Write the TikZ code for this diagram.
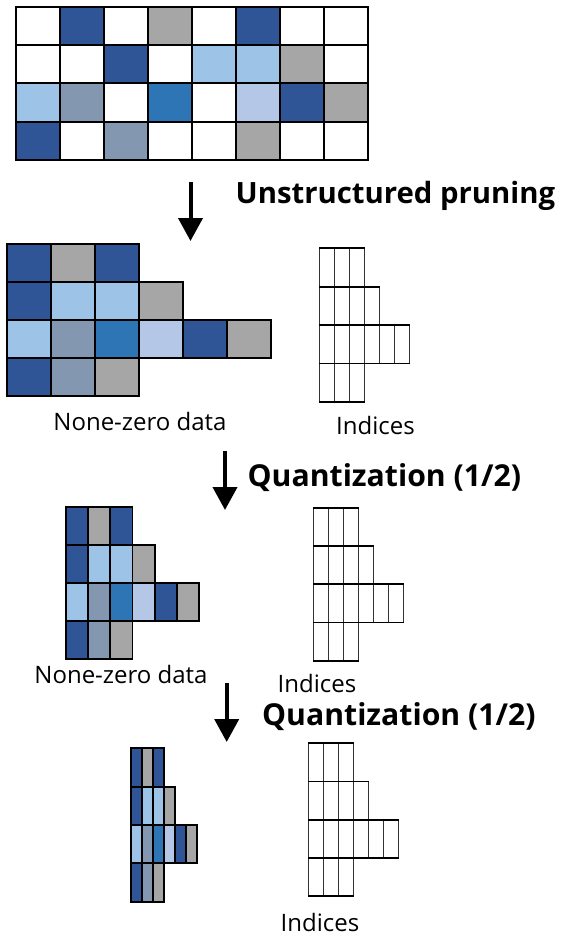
\documentclass[tikz,border=0pt]{standalone}
\usepackage{fontspec}
\setmainfont{Open Sans}
\usetikzlibrary{arrows.meta}

% Office-style palette for the weight cells
\definecolor{dkb}{HTML}{2F5597}
\definecolor{mdb}{HTML}{2E75B6}
\definecolor{ltb}{HTML}{9DC3E6}
\definecolor{lav}{HTML}{B4C7E7}
\definecolor{gbl}{HTML}{8497B0}
\definecolor{gry}{HTML}{A6A6A6}

\tikzset{
  cellbox/.style={draw=black, line width=1.8pt},
  idxrule/.style={draw=black, line width=1.7pt},
  idxsep/.style={draw=black!80, line width=0.9pt},
  steparrow/.style={line width=4pt, -{Triangle[width=24pt,length=23pt]}},
  steplabel/.style={anchor=base west, inner sep=0pt, font=\bfseries\fontsize{29.3}{34}\selectfont},
  quantlabel/.style={steplabel, font=\bfseries\fontsize{30.2}{35}\selectfont},
  caption/.style={anchor=base, inner sep=0pt, font=\fontsize{24}{28}\selectfont}
}

% one row of coloured cells: x0, y0, width, height, colour list
\newcommand\datarow[5]{%
  \foreach \c [count=\i from 0] in {#5} {
    \draw[cellbox, fill=\c] ({#1+\i*#3},{#2}) rectangle ++(#3,#4);
  }}

% one row of index slots: x0, y0, width, height, number of slots
\newcommand\idxrow[5]{%
  \foreach \k in {0,...,#5} {
    \draw[idxsep] ({#1+\k*#3},{#2}) -- ++(0,#4);
  }
  \draw[idxrule] ({#1},{#2}) -- ++({#5*#3},0);
  \draw[idxrule] ({#1},{#2+#4}) -- ++({#5*#3},0);}

\begin{document}
\begin{tikzpicture}[x=1pt,y=-1pt]
  \useasboundingbox[fill=white] (0,0) rectangle (570,936);

  % dense weight matrix
  \datarow{16}{6.7}{44}{38.33}{white,dkb,white,gry,white,dkb,white,white}
  \datarow{16}{45.03}{44}{38.33}{white,white,dkb,white,ltb,ltb,gry,white}
  \datarow{16}{83.36}{44}{38.33}{ltb,gbl,white,mdb,white,lav,dkb,gry}
  \datarow{16}{121.69}{44}{38.33}{dkb,white,gbl,white,white,gry,white,white}

  % step 1: unstructured pruning
  \coordinate (a1s) at (190.5,182);
  \coordinate (a1e) at (190.5,241);
  \draw[steparrow] (a1s) -- (a1e);
  \node[steplabel] (prune) at (235.5,204) {Unstructured pruning};

  % non-zero data after pruning
  \datarow{6.7}{244}{44}{38}{dkb,gry,dkb}
  \datarow{6.7}{282}{44}{38}{dkb,ltb,ltb,gry}
  \datarow{6.7}{320}{44}{38}{ltb,gbl,mdb,lav,dkb,gry}
  \datarow{6.7}{358}{44}{38}{dkb,gbl,gry}
  \node[caption] (nz1) at (140,430) {None-zero data};

  % index arrays after pruning
  \idxrow{319.3}{248.3}{15.1}{38.35}{3}
  \idxrow{319.3}{286.65}{15.1}{38.35}{4}
  \idxrow{319.3}{325}{15.1}{38.35}{6}
  \idxrow{319.3}{363.35}{15.1}{38.35}{3}
  \node[caption] (ix1) at (375.5,434) {Indices};

  % step 2: first quantization
  \coordinate (a2s) at (225,451);
  \coordinate (a2e) at (225,510);
  \draw[steparrow] (a2s) -- (a2e);
  \node[quantlabel] (quant1) at (247.5,486.7) {Quantization (1/2)};

  % half-width data
  \datarow{66}{506.7}{22.17}{38.15}{dkb,gry,dkb}
  \datarow{66}{544.85}{22.17}{38.15}{dkb,ltb,ltb,gry}
  \datarow{66}{583}{22.17}{38.15}{ltb,gbl,mdb,lav,dkb,gry}
  \datarow{66}{621.15}{22.17}{38.15}{dkb,gbl,gry}
  \node[caption] (nz2) at (121,683) {None-zero data};

  \idxrow{313.3}{507.7}{15.1}{38.3}{3}
  \idxrow{313.3}{546}{15.1}{38.3}{4}
  \idxrow{313.3}{584.3}{15.1}{38.3}{6}
  \idxrow{313.3}{622.6}{15.1}{38.3}{3}
  \node[caption] (ix2) at (317,692.7) {Indices};

  % step 3: second quantization
  \coordinate (a3s) at (226.7,683);
  \coordinate (a3e) at (226.7,742);
  \draw[steparrow] (a3s) -- (a3e);
  \node[quantlabel] (quant2) at (262,725) {Quantization (1/2)};

  % quarter-width data
  \datarow{130.7}{748.3}{11.1}{38.35}{dkb,gry,dkb}
  \datarow{130.7}{786.65}{11.1}{38.35}{dkb,ltb,ltb,gry}
  \datarow{130.7}{825}{11.1}{38.35}{ltb,gbl,mdb,lav,dkb,gry}
  \datarow{130.7}{863.35}{11.1}{38.35}{dkb,gbl,gry}

  \idxrow{308.3}{743.3}{15.07}{38.2}{3}
  \idxrow{308.3}{781.5}{15.07}{38.2}{4}
  \idxrow{308.3}{819.7}{15.07}{38.2}{6}
  \idxrow{308.3}{857.9}{15.07}{38.2}{3}
  \node[caption] (ix3) at (320,931) {Indices};
\end{tikzpicture}
\end{document}
